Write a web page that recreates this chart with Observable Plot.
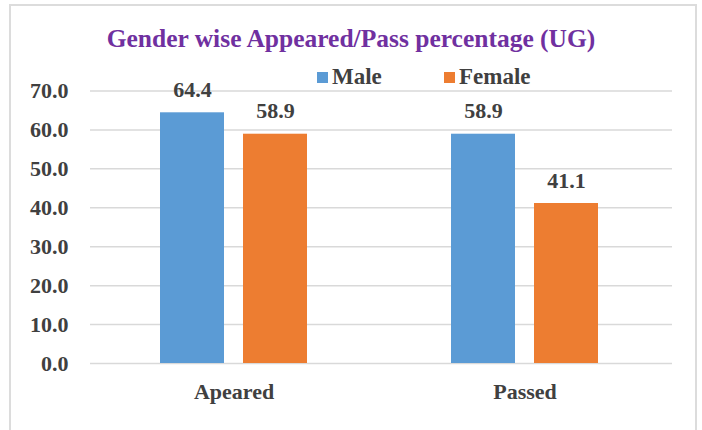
<!DOCTYPE html>
<html>
<head>
<meta charset="utf-8">
<script src="https://cdn.jsdelivr.net/npm/d3@7"></script>
<script src="https://cdn.jsdelivr.net/npm/@observablehq/plot@0.6"></script>
<style>
  html, body { margin: 0; padding: 0; background: #fff; }
  #wrap { position: relative; width: 702px; height: 430px; overflow: hidden; font-family: 'Liberation Serif'; }
  #frame { position: absolute; left: 9px; top: 4px; width: 688px; height: 440px; border: 2px solid #dcdcdc; box-sizing: border-box; }
  #title { position: absolute; left: 0; width: 702px; top: 24px; text-align: center; color: #7030A0; font-family: 'Liberation Serif'; font-weight: bold; font-size: 25.5px; white-space: nowrap; }
  #legend { position: absolute; top: 64px; left: 317px; color: #404040; font-family: 'Liberation Serif'; font-weight: bold; font-size: 23px; white-space: nowrap; }
  #legend span.item { position: absolute; top: 0; display: inline-flex; align-items: center; }
  #legend span.sw { display: inline-block; width: 11px; height: 11px; margin-right: 4px; }
  #chart { position: absolute; left: 0; top: 0; }
  #chart svg text { font-family: 'Liberation Serif'; }
</style>
</head>
<body>
<div id="wrap">
  <div id="frame"></div>
  <div id="chart"></div>
  <div id="title">Gender wise Appeared/Pass percentage (UG)</div>
  <div id="legend"></div>
</div>
<script>
const categories = ["Apeared", "Passed"];
const series = ["Male", "Female"];
const maleValues = [64.4, 58.9];
const femaleValues = [58.9, 41.1];
const colors = ["#5B9BD5", "#ED7D31"];
const yTicks = [0, 10, 20, 30, 40, 50, 60, 70];

const male = categories.map((c, i) => ({category: c, gender: "Male", value: maleValues[i]}));
const female = categories.map((c, i) => ({category: c, gender: "Female", value: femaleValues[i]}));

const bw = 147, barW = 64, inset = bw - barW;

const chart = Plot.plot({
  width: 702,
  height: 430,
  marginLeft: 90,
  marginRight: 30,
  marginTop: 90.5,
  marginBottom: 67,
  style: {fontFamily: "Liberation Serif", fontSize: "22px", fontWeight: "bold", color: "#404040", background: "transparent", overflow: "visible"},
  x: {domain: categories, paddingInner: 0.495, paddingOuter: 0.2475, align: 0.483, label: null, tickSize: 0, tickPadding: 20},
  y: {domain: [0, 70], ticks: yTicks, tickFormat: d3.format(".1f"), label: null, tickSize: 0, tickPadding: 22},
  marks: [
    Plot.ruleY(yTicks, {stroke: "#d9d9d9", strokeWidth: 1.5}),
    Plot.barY(male, {x: "category", y: "value", fill: colors[0], insetRight: inset}),
    Plot.barY(female, {x: "category", y: "value", fill: colors[1], insetLeft: inset}),
    Plot.text(male, {x: "category", y: "value", text: d => d.value.toFixed(1), dx: -(bw/2 - barW/2), dy: -23, fill: "#404040"}),
    Plot.text(female, {x: "category", y: "value", text: d => d.value.toFixed(1), dx: (bw/2 - barW/2), dy: -23, fill: "#404040"})
  ]
});
document.getElementById("chart").appendChild(chart);

const legend = document.getElementById("legend");
const legendOffsets = [0, 127];
series.forEach((s, i) => {
  const item = document.createElement("span");
  item.className = "item";
  item.style.left = legendOffsets[i] + "px";
  const sw = document.createElement("span");
  sw.className = "sw";
  sw.style.background = colors[i];
  item.appendChild(sw);
  item.appendChild(document.createTextNode(s));
  legend.appendChild(item);
});
</script>
</body>
</html>
